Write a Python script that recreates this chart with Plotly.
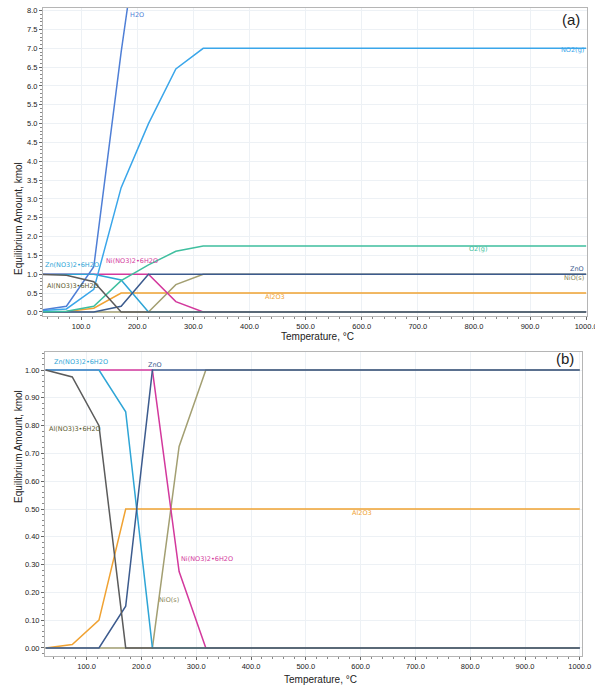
import plotly.graph_objects as go

# Temperatures (°C)
temps = [25.0, 73.75, 122.5, 171.25, 220.0, 268.75, 317.5, 366.25, 415.0, 463.75,
         512.5, 561.25, 610.0, 658.75, 707.5, 756.25, 805.0, 853.75, 902.5, 951.25, 1000.0]

# Equilibrium amounts (kmol)
h2o      = [0.04, 0.15, 1.2, 6.9, 12.0, 16.35, 18.0, 18.0, 18.0, 18.0, 18.0, 18.0, 18.0, 18.0, 18.0, 18.0, 18.0, 18.0, 18.0, 18.0, 18.0]
no2      = [0.03, 0.08, 0.6, 3.3, 5.0, 6.45, 7.0, 7.0, 7.0, 7.0, 7.0, 7.0, 7.0, 7.0, 7.0, 7.0, 7.0, 7.0, 7.0, 7.0, 7.0]
o2       = [0.0, 0.02, 0.15, 0.83, 1.25, 1.61, 1.75, 1.75, 1.75, 1.75, 1.75, 1.75, 1.75, 1.75, 1.75, 1.75, 1.75, 1.75, 1.75, 1.75, 1.75]
zn_nit   = [1.0, 1.0, 1.0, 0.85, 0.0, 0.0, 0.0, 0.0, 0.0, 0.0, 0.0, 0.0, 0.0, 0.0, 0.0, 0.0, 0.0, 0.0, 0.0, 0.0, 0.0]
ni_nit   = [1.0, 1.0, 1.0, 1.0, 1.0, 0.275, 0.0, 0.0, 0.0, 0.0, 0.0, 0.0, 0.0, 0.0, 0.0, 0.0, 0.0, 0.0, 0.0, 0.0, 0.0]
al_nit   = [1.0, 0.975, 0.80, 0.0, 0.0, 0.0, 0.0, 0.0, 0.0, 0.0, 0.0, 0.0, 0.0, 0.0, 0.0, 0.0, 0.0, 0.0, 0.0, 0.0, 0.0]
zno      = [0.0, 0.0, 0.0, 0.15, 1.0, 1.0, 1.0, 1.0, 1.0, 1.0, 1.0, 1.0, 1.0, 1.0, 1.0, 1.0, 1.0, 1.0, 1.0, 1.0, 1.0]
nio      = [0.0, 0.0, 0.0, 0.0, 0.0, 0.725, 1.0, 1.0, 1.0, 1.0, 1.0, 1.0, 1.0, 1.0, 1.0, 1.0, 1.0, 1.0, 1.0, 1.0, 1.0]
al2o3    = [0.0, 0.0125, 0.10, 0.50, 0.50, 0.50, 0.50, 0.50, 0.50, 0.50, 0.50, 0.50, 0.50, 0.50, 0.50, 0.50, 0.50, 0.50, 0.50, 0.50, 0.50]

x_ticks = [100, 200, 300, 400, 500, 600, 700, 800, 900, 1000]
x_tick_labels = ["100.0", "200.0", "300.0", "400.0", "500.0", "600.0", "700.0", "800.0", "900.0", "1000.0"]
ya_ticks = [i * 0.5 for i in range(17)]
ya_tick_labels = [f"{v:.1f}" for v in ya_ticks]
yb_ticks = [i * 0.1 for i in range(11)]
yb_tick_labels = [f"{v:.2f}" for v in yb_ticks]

C_H2O = "#4f7fd6"
C_NO2 = "#3aa6ea"
C_ZNN = "#2ea5d6"
C_O2 = "#3fbf9f"
C_NIN = "#d3399d"
C_ZNO = "#3c5b8e"
C_NIO = "#a39f72"
C_AL2O3 = "#f0a232"
C_ALN = "#5b5b5b"
C_ALN_LBL = "#5c5a2e"

fig = go.Figure()

def add(x, y, color, xa, ya):
    fig.add_trace(go.Scatter(x=x, y=y, mode="lines", line=dict(color=color, width=1.5),
                             xaxis=xa, yaxis=ya, showlegend=False, hoverinfo="skip"))

# Panel (a)
for ser, col in [(al2o3, C_AL2O3), (nio, C_NIO), (ni_nit, C_NIN), (zn_nit, C_ZNN),
                 (zno, C_ZNO), (o2, C_O2), (no2, C_NO2), (h2o, C_H2O), (al_nit, C_ALN)]:
    add(temps, ser, col, "x", "y")

# Panel (b)
for ser, col in [(al2o3, C_AL2O3), (nio, C_NIO), (ni_nit, C_NIN), (zn_nit, C_ZNN),
                 (zno, C_ZNO), (al_nit, C_ALN)]:
    add(temps, ser, col, "x2", "y2")

W, H = 595, 686
def px(xp): return xp / W
def py(yp): return 1 - yp / H

tickfont = dict(family="Liberation Sans", size=7.5, color="#222222")
grid = "#edf1f5"
frame = "#b5b5b5"

common_x = dict(tickmode="array", tickvals=x_ticks, ticktext=x_tick_labels, tickfont=tickfont,
                showgrid=True, gridcolor=grid, gridwidth=1, zeroline=False, automargin=False,
                showline=True, linecolor=frame, linewidth=1, mirror=True,
                ticks="outside", ticklen=3, tickcolor="#666", ticklabeloverflow="allow",
                minor=dict(dtick=20, ticks="outside", ticklen=2, tickcolor="#888", showgrid=False))
common_y = dict(tickmode="array", tickfont=tickfont, showgrid=True, gridcolor=grid, gridwidth=1,
                zeroline=False, showline=True, linecolor=frame, linewidth=1, mirror=True,
                automargin=False, ticks="outside", ticklen=3, tickcolor="#666")

fig.update_layout(
    width=W, height=H, margin=dict(l=0, r=0, t=0, b=0),
    paper_bgcolor="white", plot_bgcolor="white",
    xaxis=dict(domain=[px(43), px(587)], range=[32, 1001.5], anchor="y", **common_x),
    yaxis=dict(domain=[py(315.7), py(8)], range=[-0.1, 8.07], anchor="x",
               tickvals=ya_ticks, ticktext=ya_tick_labels,
               minor=dict(dtick=0.1, ticks="outside", ticklen=2, tickcolor="#888", showgrid=False),
               **common_y),
    xaxis2=dict(domain=[px(45), px(582)], range=[24, 1004], anchor="y2", **common_x),
    yaxis2=dict(domain=[py(656), py(352)], range=[-0.029, 1.065], anchor="x2",
                tickvals=yb_ticks, ticktext=yb_tick_labels,
                minor=dict(dtick=0.02, ticks="outside", ticklen=2, tickcolor="#888", showgrid=False),
                **common_y),
)

lblfont = "DejaVu Sans"
def lab(text, x, y, color, size=6.5, xanchor="left"):
    fig.add_annotation(text=text, x=px(x), y=py(y), xref="paper", yref="paper",
                       showarrow=False, xanchor=xanchor, yanchor="middle",
                       font=dict(family=lblfont, size=size, color=color))

# Panel (a) labels
lab("H2O", 128, 15, C_H2O)
lab("NO2(g)", 586, 50, C_NO2, xanchor="right")
lab("O2(g)", 467, 249, C_O2)
lab("ZnO", 586, 269, C_ZNO, xanchor="right")
lab("NiO(s)", 586, 278, "#8c885a", xanchor="right")
lab("Al2O3", 263, 297, C_AL2O3)
lab("Zn(NO3)2•6H2O", 43, 265, C_ZNN)
lab("Ni(NO3)2•6H2O", 104, 261, C_NIN)
lab("Al(NO3)3•6H2O", 45, 286, C_ALN_LBL)
fig.add_annotation(text="(a)", x=px(582), y=py(20), xref="paper", yref="paper", showarrow=False,
                   xanchor="right", yanchor="middle", font=dict(family="Liberation Sans", size=15, color="#222"))

# Panel (b) labels
lab("Zn(NO3)2•6H2O", 52, 362, C_ZNN)
lab("ZnO", 146, 365, C_ZNO)
lab("Al(NO3)3•6H2O", 47, 429, C_ALN_LBL)
lab("Al2O3", 350, 513, C_AL2O3)
lab("Ni(NO3)2•6H2O", 179, 559, C_NIN)
lab("NiO(s)", 157, 600, "#8c885a")
fig.add_annotation(text="(b)", x=px(576), y=py(358), xref="paper", yref="paper", showarrow=False,
                   xanchor="right", yanchor="middle", font=dict(family="Liberation Sans", size=15, color="#222"))

# Axis titles
for (x, y) in [(11, 160), (11, 505)]:
    fig.add_annotation(text="Equilibrium Amount, kmol", x=px(x), y=py(y), xref="paper", yref="paper",
                       showarrow=False, textangle=-90, font=dict(family="Liberation Sans", size=10, color="#222"))
fig.add_annotation(text="Temperature, °C", x=px(317), y=py(336), xref="paper", yref="paper",
                   showarrow=False, font=dict(family="Liberation Sans", size=10, color="#222"))
fig.add_annotation(text="Temperature, °C", x=px(320), y=0, xref="paper", yref="paper",
                   showarrow=False, yanchor="bottom", borderpad=0,
                   font=dict(family="Liberation Sans", size=10, color="#222"))

fig.write_html("out.html", config={"displayModeBar": False},
               post_script="document.body.style.margin='0';document.body.style.padding='0';")
